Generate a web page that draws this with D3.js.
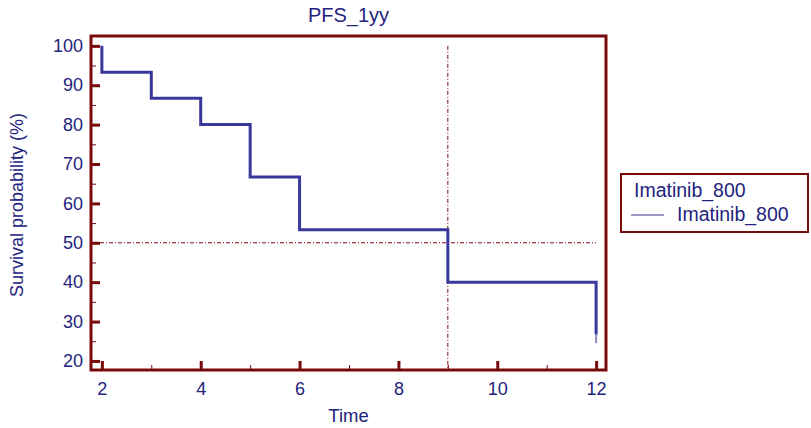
<!DOCTYPE html>
<html>
<head>
<meta charset="utf-8">
<script src="https://cdn.jsdelivr.net/npm/d3@7"></script>
<style>
  body { margin: 0; background: #fff; }
  text { font-family: "Liberation Sans", Arial, sans-serif; }
</style>
</head>
<body>
<div id="chart"></div>
<script>
  // KM step data (time, survival %)
  const times = [2, 2, 3, 4, 5, 6, 9, 12];
  const survival = [100, 93.3, 86.7, 80, 66.7, 53.3, 40, 26.7];
  const xTicks = [2, 4, 6, 8, 10, 12];
  const yTicks = [20, 30, 40, 50, 60, 70, 80, 90, 100];
  const medianTime = 9;
  const refLevel = 50;
  const seriesName = "Imatinib_800";

  const svgWidth = 811, svgHeight = 428;
  const margin = { top: 36, right: 205, bottom: 58, left: 91 };
  const axisCol = "#7a0a0a", textCol = "#23237e", lineCol = "#38389c";

  const svg = d3.select("#chart").append("svg")
    .attr("width", svgWidth).attr("height", svgHeight);

  const x = d3.scaleLinear().domain([1.78, 12.2])
    .range([margin.left, svgWidth - margin.right]);
  const y = d3.scaleLinear().domain([17.7, 102.5])
    .range([svgHeight - margin.bottom, margin.top]);

  const x0 = margin.left, x1 = svgWidth - margin.right;
  const y0 = svgHeight - margin.bottom, y1 = margin.top;

  // reference lines (median)
  svg.append("line")
    .attr("x1", x0).attr("x2", x(12))
    .attr("y1", y(refLevel)).attr("y2", y(refLevel))
    .attr("stroke", axisCol).attr("stroke-width", 1)
    .attr("stroke-dasharray", "4,2,1,2");
  svg.append("line")
    .attr("x1", x(medianTime)).attr("x2", x(medianTime))
    .attr("y1", y(100)).attr("y2", y0)
    .attr("stroke", axisCol).attr("stroke-width", 1)
    .attr("stroke-dasharray", "4,2,1,2");

  // survival step curve
  const pts = times.map((t, i) => [t, survival[i]]);
  const line = d3.line().x(d => x(d[0])).y(d => y(d[1])).curve(d3.curveStepAfter);
  svg.append("path")
    .attr("d", line(pts))
    .attr("fill", "none").attr("stroke", lineCol).attr("stroke-width", 3);
  // faint tail at the end
  svg.append("line")
    .attr("x1", x(12)).attr("x2", x(12))
    .attr("y1", y(26.7)).attr("y2", y(24.5))
    .attr("stroke", "#8a8ac0").attr("stroke-width", 2);

  // frame
  svg.append("rect")
    .attr("x", x0).attr("y", y1)
    .attr("width", x1 - x0).attr("height", y0 - y1)
    .attr("fill", "none").attr("stroke", axisCol).attr("stroke-width", 3);

  // x axis ticks (inward)
  const xAxis = svg.append("g").attr("transform", `translate(0,${y0})`)
    .call(d3.axisBottom(x).tickValues(xTicks).tickSize(-9).tickPadding(12).tickFormat(d3.format("d")));
  xAxis.select(".domain").remove();
  xAxis.selectAll(".tick line").attr("stroke", axisCol).attr("stroke-width", 3);
  xAxis.selectAll("text").attr("fill", textCol).style("font-size", "18px");
  const xMinor = svg.append("g").attr("transform", `translate(0,${y0})`)
    .call(d3.axisBottom(x).tickValues([3, 5, 7, 9, 11]).tickSize(-5).tickFormat(""));
  xMinor.select(".domain").remove();
  xMinor.selectAll(".tick line").attr("stroke", axisCol).attr("stroke-width", 1);

  // y axis ticks (inward)
  const yAxis = svg.append("g").attr("transform", `translate(${x0},0)`)
    .call(d3.axisLeft(y).tickValues(yTicks).tickSize(-9).tickPadding(8));
  yAxis.select(".domain").remove();
  yAxis.selectAll(".tick line").attr("stroke", axisCol).attr("stroke-width", 3);
  yAxis.selectAll("text").attr("fill", textCol).style("font-size", "18px");
  const yMinor = svg.append("g").attr("transform", `translate(${x0},0)`)
    .call(d3.axisLeft(y).tickValues([25, 35, 45, 55, 65, 75, 85, 95]).tickSize(-5).tickFormat(""));
  yMinor.select(".domain").remove();
  yMinor.selectAll(".tick line").attr("stroke", axisCol).attr("stroke-width", 1);

  // titles
  svg.append("text").attr("x", (x0 + x1) / 2).attr("y", 22)
    .attr("text-anchor", "middle").attr("fill", textCol).style("font-size", "20px")
    .text("PFS_1yy");
  svg.append("text").attr("x", (x0 + x1) / 2).attr("y", 422)
    .attr("text-anchor", "middle").attr("fill", textCol).style("font-size", "18.5px")
    .text("Time");
  svg.append("text")
    .attr("transform", `translate(23,${(y0 + y1) / 2 + 2}) rotate(-90)`)
    .attr("text-anchor", "middle").attr("fill", textCol).style("font-size", "18px")
    .text("Survival probability (%)");

  // legend
  const lg = svg.append("g").attr("transform", "translate(621,174)");
  lg.append("rect").attr("width", 187).attr("height", 58)
    .attr("fill", "#fff").attr("stroke", axisCol).attr("stroke-width", 2);
  lg.append("text").attr("x", 13).attr("y", 23).attr("fill", textCol)
    .style("font-size", "19.5px").text(seriesName);
  lg.append("line").attr("x1", 10).attr("x2", 43).attr("y1", 41).attr("y2", 41)
    .attr("stroke", "#7a7ab8").attr("stroke-width", 1.5);
  lg.append("text").attr("x", 56).attr("y", 47).attr("fill", textCol)
    .style("font-size", "19.5px").text(seriesName);
</script>
</body>
</html>
